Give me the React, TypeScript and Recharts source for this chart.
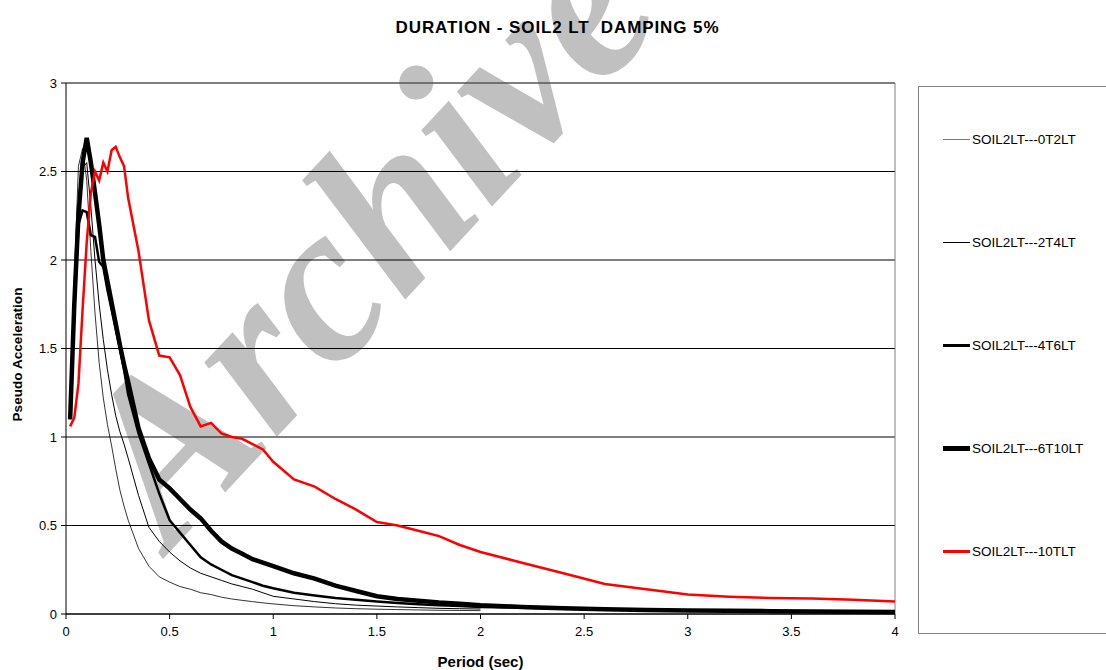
import {
  LineChart,
  Line,
  XAxis,
  YAxis,
  CartesianGrid,
  ReferenceLine,
  Label
} from 'recharts';

const periods = [
  0.02, 0.04, 0.06, 0.08, 0.1, 0.12, 0.14, 0.16, 0.18, 0.2, 0.22, 0.24, 0.26,
  0.28, 0.3, 0.35, 0.4, 0.45, 0.5, 0.55, 0.6, 0.65, 0.7, 0.75, 0.8, 0.85, 0.9,
  0.95, 1.0, 1.1, 1.2, 1.3, 1.4, 1.5, 1.6, 1.7, 1.8, 1.9, 2.0, 2.2, 2.4, 2.6,
  2.8, 3.0, 3.2, 3.4, 3.6, 3.8, 4.0
];

const soil0T2 = [
  1.1, 1.9, 2.53, 2.63, 2.45, 2.05, 1.7, 1.42, 1.22, 1.07, 0.95, 0.82, 0.7,
  0.61, 0.53, 0.37, 0.27, 0.21, 0.18, 0.155, 0.14, 0.12, 0.11, 0.095, 0.085,
  0.077, 0.07, 0.063, 0.057, 0.047, 0.04, 0.034, 0.03, 0.027, 0.025, 0.023,
  0.021, 0.02, 0.019, null, null, null, null, null, null, null, null, null, null
];

const soil2T4 = [
  1.1, 1.8, 2.3, 2.52, 2.55, 2.3, 2.0, 1.75, 1.55, 1.38, 1.24, 1.12, 1.03,
  0.96, 0.88, 0.67, 0.49, 0.41, 0.35, 0.3, 0.26, 0.23, 0.21, 0.19, 0.17, 0.155,
  0.14, 0.12, 0.1, 0.085, 0.07, 0.058, 0.05, 0.045, 0.04, 0.036, 0.032, 0.03,
  0.028, null, null, null, null, null, null, null, null, null, null
];

const soil4T6 = [
  1.12, 1.7, 2.2, 2.28, 2.27, 2.14, 2.13, 1.99, 1.96, 1.83, 1.72, 1.61, 1.5,
  1.38, 1.24, 1.02, 0.85, 0.68, 0.53, 0.46, 0.39, 0.32, 0.28, 0.25, 0.22, 0.2,
  0.18, 0.16, 0.145, 0.12, 0.105, 0.09, 0.08, 0.07, 0.062, 0.055, 0.05, 0.045,
  0.04, 0.035, 0.03, 0.026, 0.022, 0.02, 0.018, 0.016, 0.014, 0.012, 0.011
];

const soil6T10 = [
  1.1, 1.75, 2.25, 2.55, 2.69, 2.55, 2.38, 2.2, 2.0, 1.88, 1.76, 1.64, 1.52,
  1.41, 1.31, 1.05, 0.88, 0.76, 0.71, 0.65, 0.59, 0.54, 0.47, 0.41, 0.37, 0.34,
  0.31, 0.29, 0.27, 0.23, 0.2, 0.16, 0.13, 0.1, 0.085, 0.075, 0.065, 0.058,
  0.05, 0.04, 0.032, 0.027, 0.023, 0.02, 0.018, 0.016, 0.014, 0.013, 0.012
];

const soil10T = [
  1.06, 1.11, 1.3, 1.72, 2.1, 2.38, 2.5, 2.45, 2.55, 2.5, 2.62, 2.64, 2.58,
  2.53, 2.35, 2.05, 1.66, 1.46, 1.45, 1.35, 1.17, 1.06, 1.08, 1.02, 1.0, 0.99,
  0.96, 0.93, 0.86, 0.76, 0.72, 0.65, 0.59, 0.52, 0.5, 0.47, 0.44, 0.39, 0.35,
  0.29, 0.23, 0.17, 0.14, 0.11, 0.098, 0.09, 0.087, 0.08, 0.07
];

const xTicks = [0, 0.5, 1, 1.5, 2, 2.5, 3, 3.5, 4];
const yTicks = [0, 0.5, 1, 1.5, 2, 2.5, 3];

const seriesList = [
  { name: 'SOIL2LT---0T2LT', values: soil0T2, color: '#000', width: 0.8 },
  { name: 'SOIL2LT---2T4LT', values: soil2T4, color: '#000', width: 1 },
  { name: 'SOIL2LT---4T6LT', values: soil4T6, color: '#000', width: 2.5 },
  { name: 'SOIL2LT---6T10LT', values: soil6T10, color: '#000', width: 4.5 },
  { name: 'SOIL2LT---10TLT', values: soil10T, color: '#ff0000', width: 2.5 }
];

const toPoints = (values: (number | null)[]) =>
  periods.map((p, i) => ({ x: p, y: values[i] }));

const font = '"Liberation Sans", Arial, sans-serif';

// legend box drawn by hand, it sits outside the plot on the right
function LegendBox() {
  return (
    <div
      style={{
        position: 'absolute',
        left: 918,
        top: 86,
        width: 200,
        height: 546,
        border: '1px solid #808080',
        fontFamily: font,
        fontSize: 13.5,
        color: '#000'
      }}
    >
      {seriesList.map((s, i) => (
        <div
          key={s.name}
          style={{
            position: 'absolute',
            left: 24,
            top: 45 + i * 103,
            display: 'flex',
            alignItems: 'center',
            whiteSpace: 'nowrap'
          }}
        >
          <div
            style={{
              width: 27,
              height: 0,
              borderTop: `${Math.max(1, Math.round(s.width))}px solid ${
                i === 0 ? '#777' : s.color
              }`
            }}
          />
          <span style={{ marginLeft: 2 }}>{s.name}</span>
        </div>
      ))}
    </div>
  );
}

export default function App() {
  return (
    <div
      style={{
        position: 'absolute',
        left: 0,
        top: 0,
        width: 1106,
        height: 670,
        overflow: 'hidden',
        background: '#fff'
      }}
    >
      {/* watermark sits behind the chart */}
      <div
        style={{
          position: 'absolute',
          left: 165,
          top: 545,
          transformOrigin: '0 0',
          transform: 'rotate(-47deg) translateY(-80%)',
          fontFamily: '"Liberation Serif", "Times New Roman", serif',
          fontStyle: 'italic',
          fontWeight: 'bold',
          fontSize: 226,
          color: '#c0c0c0',
          whiteSpace: 'nowrap',
          lineHeight: 1
        }}
      >
        Archive
      </div>
      <div
        style={{
          position: 'absolute',
          left: 0,
          top: 18,
          width: 1115,
          textAlign: 'center',
          fontFamily: font,
          fontWeight: 'bold',
          fontSize: 17,
          letterSpacing: 0.9,
          color: '#000'
        }}
      >
        DURATION - SOIL2 LT&nbsp;&nbsp;DAMPING 5%
      </div>
      <div style={{ position: 'absolute', left: 0, top: 0 }}>
        <LineChart
          width={1106}
          height={670}
          margin={{ top: 83, right: 211, left: 0, bottom: 0 }}
          style={{ fontFamily: font }}
        >
          <CartesianGrid vertical={false} stroke="#000" />
          <XAxis
            type="number"
            dataKey="x"
            domain={[0, 4]}
            ticks={xTicks}
            allowDataOverflow
            height={56}
            stroke="#000"
            tickSize={5}
            tickMargin={8}
            tick={{ fill: '#000', fontSize: 13 }}
          >
            <Label
              value="Period (sec)"
              position="insideBottom"
              offset={3}
              style={{ fontWeight: 'bold', fontSize: 15, fill: '#000' }}
            />
          </XAxis>
          <YAxis
            type="number"
            domain={[0, 3]}
            ticks={yTicks}
            width={66}
            stroke="#000"
            tickSize={5}
            tickMargin={4}
            tick={{ fill: '#000', fontSize: 13 }}
          >
            <Label
              value="Pseudo Acceleration"
              angle={-90}
              position="insideLeft"
              offset={17}
              textAnchor="middle"
              dy={6}
              style={{ fontWeight: 'bold', fontSize: 13.6, fill: '#000' }}
            />
          </YAxis>
          <ReferenceLine y={3} stroke="#808080" />
          <ReferenceLine x={4} stroke="#808080" />
          {seriesList.map((s) => (
            <Line
              key={s.name}
              name={s.name}
              data={toPoints(s.values)}
              dataKey="y"
              type="linear"
              stroke={s.color}
              strokeWidth={s.width}
              dot={false}
              activeDot={false}
              connectNulls={false}
              isAnimationActive={false}
            />
          ))}
        </LineChart>
      </div>
      <LegendBox />
    </div>
  );
}
